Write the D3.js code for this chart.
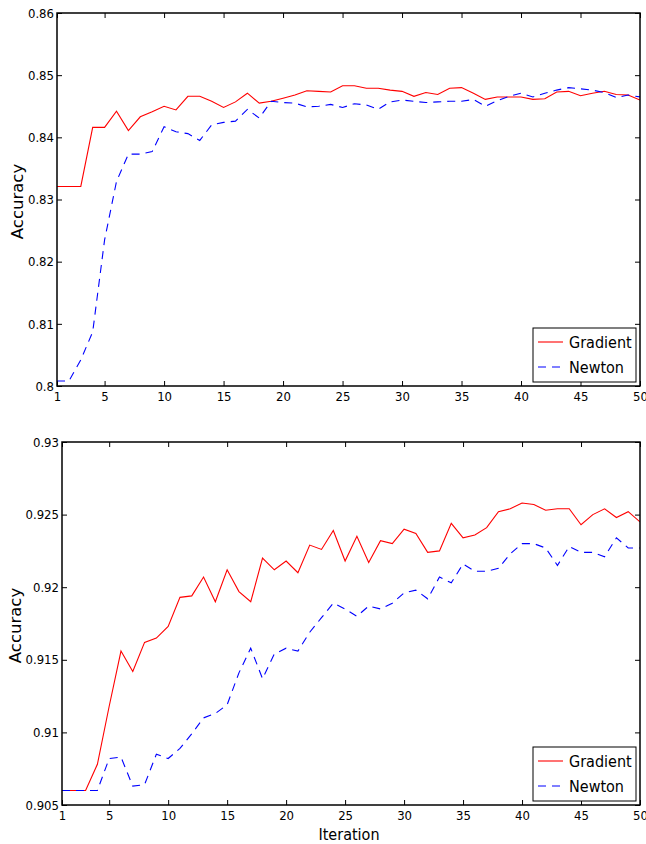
<!DOCTYPE html>
<html>
<head>
<meta charset="utf-8">
<script src="https://cdn.jsdelivr.net/npm/d3@7"></script>
<style>
  body { margin: 0; background: #fff; }
  text { font-family: "DejaVu Sans Condensed", "DejaVu Sans", sans-serif; fill: #000; }
</style>
</head>
<body>
<div id="chart"></div>
<script>
// iteration numbers on the x axis
const iterations = d3.range(1, 51);
const xTicks = [1, 5, 10, 15, 20, 25, 30, 35, 40, 45, 50];

// upper panel
const topYTicks = [0.8, 0.81, 0.82, 0.83, 0.84, 0.85, 0.86];
const topGradient = [
  0.8321, 0.8321, 0.8321, 0.8416, 0.8416, 0.8442, 0.8411, 0.8433, 0.8441, 0.8450,
  0.8444, 0.8466, 0.8466, 0.8458, 0.8448, 0.8457, 0.8471, 0.8455, 0.8458, 0.8463,
  0.8468, 0.8475, 0.8474, 0.8473, 0.8483, 0.8483, 0.8479, 0.8479, 0.8476, 0.8474,
  0.8466, 0.8472, 0.8469, 0.8479, 0.8480, 0.8471, 0.8461, 0.8465, 0.8465, 0.8465,
  0.8461, 0.8462, 0.8473, 0.8474, 0.8467, 0.8471, 0.8474, 0.8469, 0.8468, 0.8460
];
const topNewton = [
  0.8008, 0.8008, 0.8042, 0.8087, 0.8235, 0.8329, 0.8373, 0.8373, 0.8377, 0.8417,
  0.8409, 0.8406, 0.8395, 0.8420, 0.8424, 0.8426, 0.8445, 0.8431, 0.8458, 0.8456,
  0.8455, 0.8449, 0.8450, 0.8453, 0.8448, 0.8454, 0.8452, 0.8445, 0.8457, 0.8460,
  0.8458, 0.8456, 0.8457, 0.8458, 0.8458, 0.8461, 0.8450, 0.8459, 0.8466, 0.8471,
  0.8465, 0.8471, 0.8476, 0.8480, 0.8478, 0.8476, 0.8472, 0.8464, 0.8468, 0.8465
];

// lower panel
const bottomYTicks = [0.905, 0.91, 0.915, 0.92, 0.925, 0.93];
const bottomGradient = [
  0.9060, 0.9060, 0.9060, 0.9078, 0.9118, 0.9156, 0.9142, 0.9162, 0.9165, 0.9173,
  0.9193, 0.9194, 0.9207, 0.9190, 0.9212, 0.9197, 0.9190, 0.9220, 0.9212, 0.9218,
  0.9210, 0.9229, 0.9226, 0.9239, 0.9218, 0.9235, 0.9217, 0.9232, 0.9230, 0.9240,
  0.9237, 0.9224, 0.9225, 0.9244, 0.9234, 0.9236, 0.9241, 0.9252, 0.9254, 0.9258,
  0.9257, 0.9253, 0.9254, 0.9254, 0.9243, 0.9250, 0.9254, 0.9248, 0.9252, 0.9245
];
const bottomNewton = [
  0.9060, 0.9060, 0.9060, 0.9060, 0.9082, 0.9083, 0.9063, 0.9064, 0.9085, 0.9082,
  0.9089, 0.9099, 0.9110, 0.9113, 0.9119, 0.9141, 0.9158, 0.9137, 0.9154, 0.9158,
  0.9156, 0.9169, 0.9179, 0.9189, 0.9185, 0.9180, 0.9187, 0.9185, 0.9189, 0.9196,
  0.9198, 0.9192, 0.9207, 0.9203, 0.9216, 0.9211, 0.9211, 0.9213, 0.9223, 0.9230,
  0.9230, 0.9227, 0.9215, 0.9228, 0.9224, 0.9224, 0.9221, 0.9234, 0.9227, 0.9227
];

const seriesNames = ['Gradient', 'Newton'];

const W = 646, H = 844;
const svg = d3.select('#chart').append('svg')
  .attr('width', W).attr('height', H);

const drawPanel = (p) => {
  const x = d3.scaleLinear().domain([1, 50]).range([p.left, p.right]);
  const y = d3.scaleLinear().domain(p.yDomain).range([p.bottom, p.top]);
  const g = svg.append('g');

  const clipId = 'clip' + p.top;
  g.append('clipPath').attr('id', clipId)
    .append('rect')
    .attr('x', p.left).attr('y', p.top)
    .attr('width', p.right - p.left).attr('height', p.bottom - p.top);

  // inward ticks on all four sides
  const styleAxis = sel => {
    sel.select('.domain').remove();
    sel.selectAll('.tick line').attr('stroke', '#000').attr('stroke-width', 1);
    sel.selectAll('.tick text')
      .style('font-family', '"DejaVu Sans Condensed", "DejaVu Sans", sans-serif')
      .style('font-size', '13px').attr('fill', '#000');
  };

  g.append('g').attr('transform', `translate(0,${p.bottom})`)
    .call(d3.axisBottom(x).tickValues(xTicks).tickFormat(d3.format('d'))
      .tickSizeInner(-5).tickSizeOuter(0).tickPadding(6))
    .call(styleAxis);
  g.append('g').attr('transform', `translate(0,${p.top})`)
    .call(d3.axisTop(x).tickValues(xTicks).tickFormat('')
      .tickSizeInner(-5).tickSizeOuter(0))
    .call(styleAxis);
  g.append('g').attr('transform', `translate(${p.left},0)`)
    .call(d3.axisLeft(y).tickValues(p.yTicks).tickFormat(d => String(+d.toFixed(3)))
      .tickSizeInner(-5).tickSizeOuter(0).tickPadding(3))
    .call(styleAxis);
  g.append('g').attr('transform', `translate(${p.right},0)`)
    .call(d3.axisRight(y).tickValues(p.yTicks).tickFormat('')
      .tickSizeInner(-5).tickSizeOuter(0))
    .call(styleAxis);

  const line = d3.line().x((d, i) => x(iterations[i])).y(d => y(d));

  const plot = g.append('g').attr('clip-path', `url(#${clipId})`);
  plot.append('path').datum(p.gradient)
    .attr('d', line).attr('fill', 'none')
    .attr('stroke', '#ff0000').attr('stroke-width', 1.1);
  plot.append('path').datum(p.newton)
    .attr('d', line).attr('fill', 'none')
    .attr('stroke', '#0000ff').attr('stroke-width', 1.1)
    .attr('stroke-dasharray', '8,6');

  // frame
  g.append('rect')
    .attr('x', p.left).attr('y', p.top)
    .attr('width', p.right - p.left).attr('height', p.bottom - p.top)
    .attr('fill', 'none').attr('stroke', '#000').attr('stroke-width', 1.5);

  // y label
  g.append('text')
    .attr('transform', `translate(${p.yLabelX},${(p.top + p.bottom) / 2 + 2}) rotate(-90)`)
    .attr('text-anchor', 'middle')
    .attr('dy', '0.35em')
    .style('font-family', '"DejaVu Sans", sans-serif')
    .style('font-size', '16.5px')
    .text('Accuracy');

  // legend
  const lg = g.append('g');
  lg.append('rect')
    .attr('x', 533).attr('y', p.bottom - 58)
    .attr('width', 103).attr('height', 54)
    .attr('fill', '#fff').attr('stroke', '#000').attr('stroke-width', 1);
  seriesNames.forEach((name, i) => {
    const cy = p.bottom - 44 + i * 25;
    lg.append('line')
      .attr('x1', 538).attr('x2', 563).attr('y1', cy).attr('y2', cy)
      .attr('stroke', i === 0 ? '#ff0000' : '#0000ff').attr('stroke-width', 1.1)
      .attr('stroke-dasharray', i === 0 ? null : '8,6');
    lg.append('text')
      .attr('x', 569).attr('y', cy).attr('dy', '0.36em')
      .style('font-size', '16px')
      .text(name);
  });
  return x;
};

drawPanel({
  left: 57, right: 640, top: 13, bottom: 386,
  yDomain: [0.80, 0.86], yTicks: topYTicks,
  gradient: topGradient, newton: topNewton, yLabelX: 17
});

drawPanel({
  left: 62, right: 640, top: 442, bottom: 805,
  yDomain: [0.905, 0.93], yTicks: bottomYTicks,
  gradient: bottomGradient, newton: bottomNewton, yLabelX: 15
});

svg.append('text')
  .attr('x', 349).attr('y', 834).attr('dy', '0.36em')
  .attr('text-anchor', 'middle')
  .style('font-size', '16px')
  .text('Iteration');
</script>
</body>
</html>
